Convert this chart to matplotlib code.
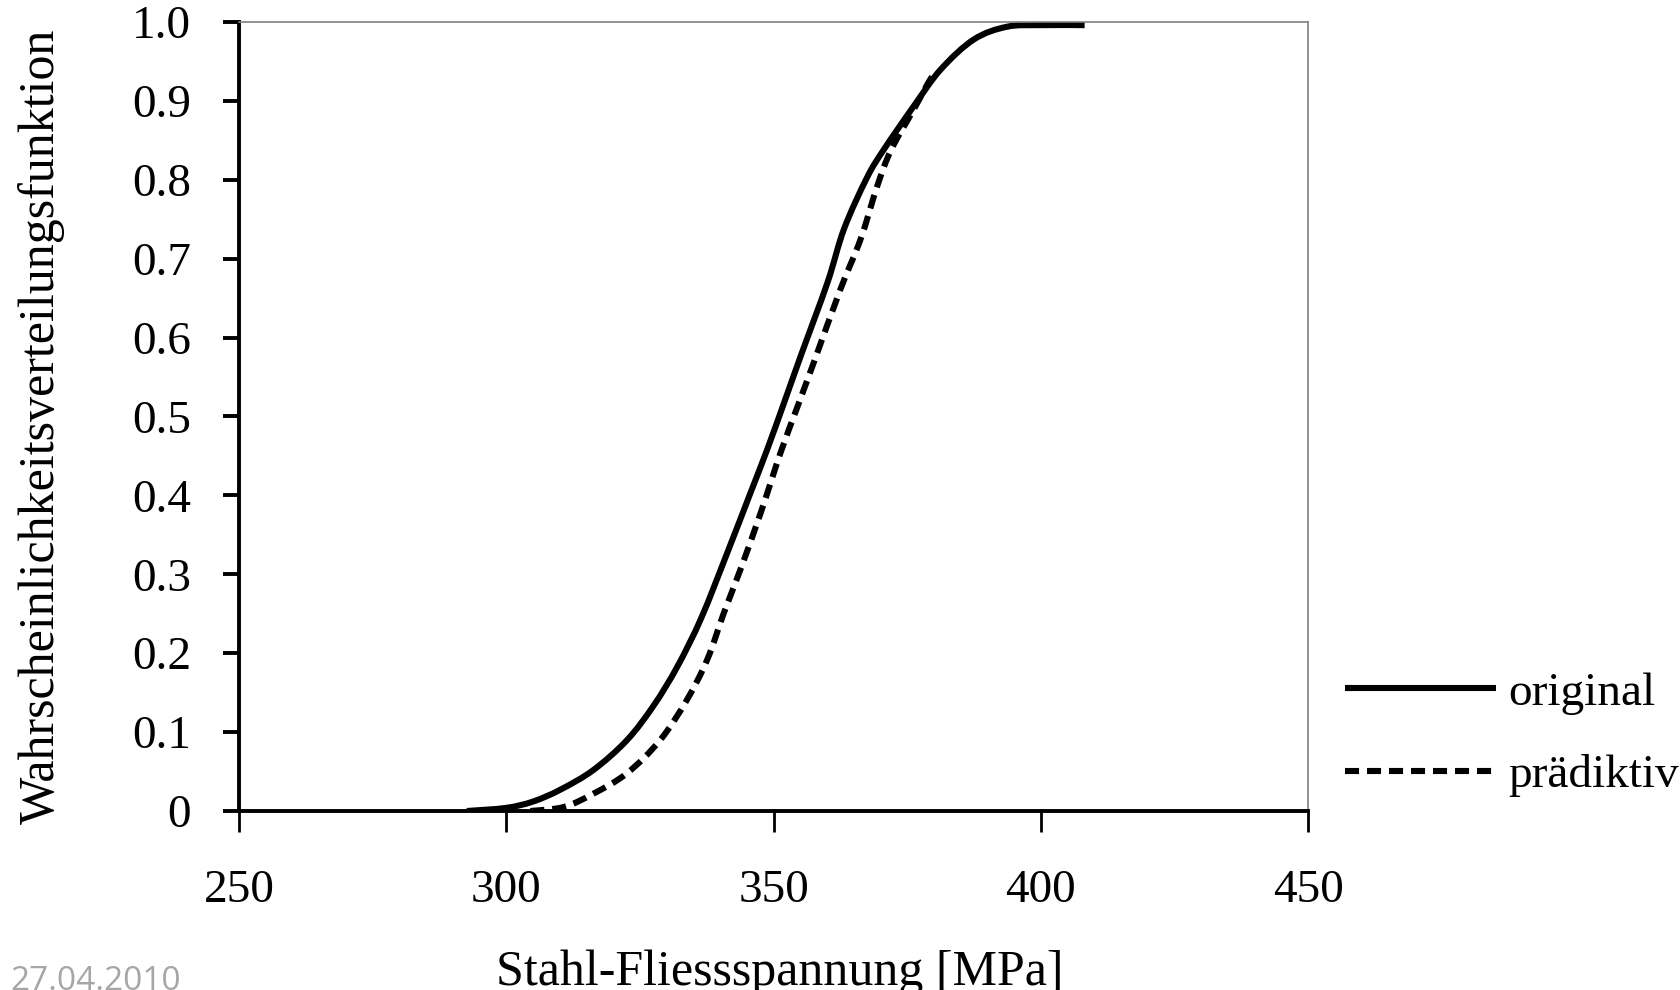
import matplotlib
matplotlib.use("Agg")
import matplotlib.pyplot as plt
from matplotlib.path import Path
from matplotlib.patches import PathPatch
from matplotlib.lines import Line2D

# ---- data ----
orig_x = [292.6, 300.0, 305.0, 310.1, 316.3, 322.6, 327.6, 332.0, 336.5, 341.5,
          345.5, 348.8, 352.0, 355.1, 360.1, 363.2, 367.5, 370.7, 376.3, 381.3,
          387.5, 393.7, 400.0, 408.2]
orig_y = [0.0, 0.004, 0.012, 0.027, 0.052, 0.090, 0.134, 0.183, 0.245, 0.330,
          0.400, 0.458, 0.518, 0.577, 0.670, 0.738, 0.803, 0.839, 0.894, 0.940,
          0.978, 0.994, 0.996, 0.996]

pred_x = [304.5, 310.7, 316.3, 322.6, 328.8, 333.8, 337.6, 340.7, 343.8, 347.6,
          351.3, 354.4, 357.5, 362.5, 366.3, 369.4, 372.0, 376.3, 379.4, 380.8]
pred_y = [0.0, 0.005, 0.022, 0.048, 0.090, 0.141, 0.192, 0.251, 0.306, 0.378,
          0.454, 0.511, 0.568, 0.661, 0.725, 0.792, 0.838, 0.890, 0.928, 0.937]

x_ticks = [250, 300, 350, 400, 450]
y_ticks = [0.0, 0.1, 0.2, 0.3, 0.4, 0.5, 0.6, 0.7, 0.8, 0.9, 1.0]
y_tick_labels = ["0", "0.1", "0.2", "0.3", "0.4", "0.5", "0.6", "0.7", "0.8", "0.9", "1.0"]
series_labels = ["original", "prädiktiv"]
x_label = "Stahl-Fliessspannung [MPa]"
y_label = "Wahrscheinlichkeitsverteilungsfunktion"
date_text = "27.04.2010"


def smooth_path(xs, ys):
    """Excel-style smoothed line: Catmull-Rom segments as cubic Bezier curves."""
    pts = list(zip(xs, ys))
    n = len(pts)
    verts = [pts[0]]
    codes = [Path.MOVETO]
    for i in range(n - 1):
        p0 = pts[i - 1] if i > 0 else pts[i]
        p1 = pts[i]
        p2 = pts[i + 1]
        p3 = pts[i + 2] if i + 2 < n else pts[i + 1]
        c1 = (p1[0] + (p2[0] - p0[0]) / 6.0, p1[1] + (p2[1] - p0[1]) / 6.0)
        c2 = (p2[0] - (p3[0] - p1[0]) / 6.0, p2[1] - (p3[1] - p1[1]) / 6.0)
        verts += [c1, c2, p2]
        codes += [Path.CURVE4] * 3
    return Path(verts, codes)


# ---- figure ----
plt.rcParams['font.family'] = ['Liberation Serif', 'DejaVu Serif']
FS = 34
LW = 4.4
DASH = (0, (2.3, 1.3))

fig = plt.figure(figsize=(16.8, 9.9), dpi=100)
ax = fig.add_axes([0.1423, 0.1808, 0.6363, 0.797])

ax.add_patch(PathPatch(smooth_path(orig_x, orig_y), fill=False, edgecolor='black',
                       lw=LW, capstyle='butt', joinstyle='round'))
ax.add_patch(PathPatch(smooth_path(pred_x, pred_y), fill=False, edgecolor='black',
                       lw=LW, linestyle=DASH, capstyle='butt', joinstyle='round'))

ax.set_xlim(250, 450)
ax.set_ylim(0, 1.0)
ax.set_xticks(x_ticks)
ax.set_xticklabels([str(v) for v in x_ticks])
ax.set_yticks(y_ticks)
ax.set_yticklabels(y_tick_labels)

for s in ['left', 'bottom']:
    ax.spines[s].set_color('black')
    ax.spines[s].set_linewidth(2.8)
for s in ['top', 'right']:
    ax.spines[s].set_color('#808080')
    ax.spines[s].set_linewidth(1.2)

ax.tick_params(axis='x', direction='out', length=15, width=2.0, pad=27,
               labelsize=FS, colors='black')
ax.tick_params(axis='y', direction='out', length=11.5, width=2.8, pad=23,
               labelsize=FS, colors='black')

ax.set_xlabel(x_label, fontsize=36)
ax.xaxis.set_label_coords(0.506, -0.2045)
ax.xaxis.label.set_va('center')

# y label: fit its length to the reference (about 795 px)
ax.set_ylabel(y_label, fontsize=36)
ax.yaxis.set_label_coords(-0.185, 0.487)
ax.yaxis.label.set_va('center')
fig.canvas.draw()
h = ax.yaxis.label.get_window_extent().height
ax.yaxis.label.set_fontsize(36 * 795.0 / h)

handles = [Line2D([], [], color='black', lw=LW, solid_capstyle='butt'),
           Line2D([], [], color='black', lw=LW, linestyle=DASH, dash_capstyle='butt')]
ax.legend(handles, series_labels, loc='center left', bbox_to_anchor=(0.8006, 0.258),
          bbox_transform=fig.transFigure, frameon=False, fontsize=FS,
          handlelength=3.2, handletextpad=0.25, labelspacing=0.84,
          borderpad=0, borderaxespad=0)

fig.text(0.006, 0.0, date_text, fontsize=24, color='#a6a6a6',
         family=['Open Sans', 'DejaVu Sans'], ha='left', va='baseline')

fig.savefig('out.png', dpi=100, facecolor='white')
